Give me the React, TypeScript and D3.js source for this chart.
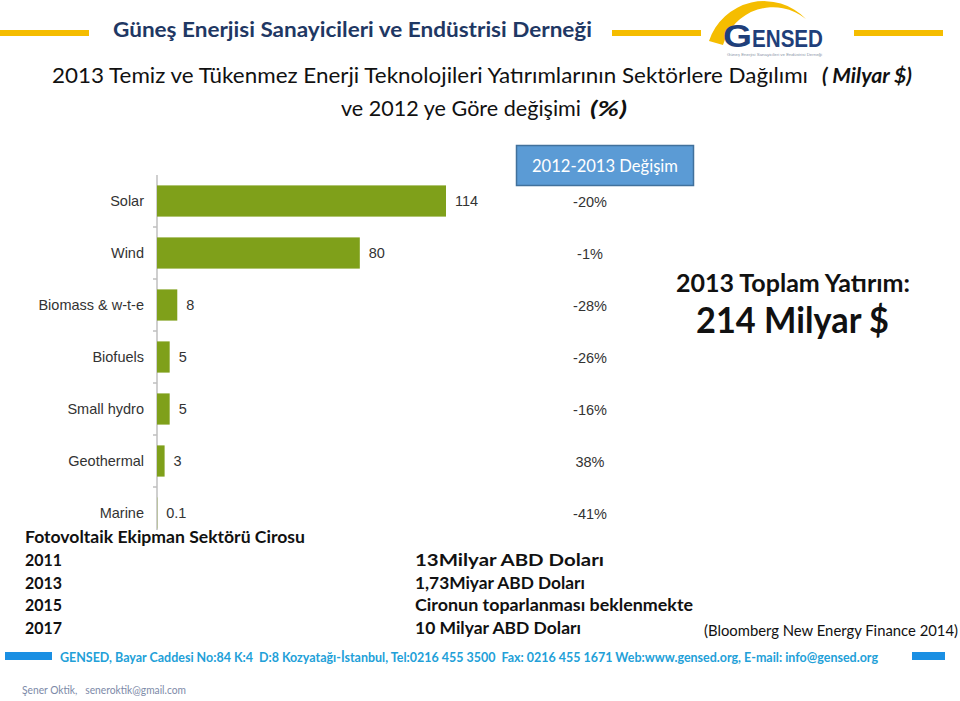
import React from "react";
import * as d3 from "d3";

const categories = ["Solar", "Wind", "Biomass & w-t-e", "Biofuels", "Small hydro", "Geothermal", "Marine"];
const investment = [114, 80, 8, 5, 5, 3, 0.1];
const valueLabels = ["114", "80", "8", "5", "5", "3", "0.1"];
const changeLabels = ["-20%", "-1%", "-28%", "-26%", "-16%", "38%", "-41%"];

const pvYears = ["2011", "2013", "2015", "2017"];
const pvValues = ["13Milyar ABD Doları", "1,73Miyar ABD Doları", "Cironun toparlanması beklenmekte", "10 Milyar ABD Doları"];
const pvValueWidths = [189, 170, 278, 166];

const CAL = "Lato, 'Open Sans', sans-serif";
const ARIAL = "'Liberation Sans', Arial, sans-serif";
const GREEN = "#7fa01a";
const NAVY = "#1f3864";
const GOLD = "#f5bd00";

export default function App() {
  const y = d3.scaleBand<string>().domain(categories).range([175, 539]).paddingInner(0.4).paddingOuter(0.2);
  const x = d3.scaleLinear().domain([0, 114]).range([157, 446]);
  const step = y.step();
  const boundaries = categories.slice(1).map((c) => (y(c) as number) - (y.paddingInner() * step) / 2);
  const pvRow = d3.scaleLinear().domain([0, 3]).range([566, 634]);

  return (
    <svg width={960} height={701} style={{ position: "absolute", left: 0, top: 0, background: "#fff" }}>
      <rect x={0} y={0} width={960} height={701} fill="#fff" />
      {/* header lines */}
      <rect x={0} y={30} width={89} height={6} fill={GOLD} />
      <rect x={612} y={30} width={89} height={6} fill={GOLD} />
      <rect x={854} y={30} width={89} height={6} fill={GOLD} />
      <text x={113} y={37} fontFamily={CAL} fontWeight={700} fontSize={20} fill={NAVY} textLength={479} lengthAdjust="spacingAndGlyphs">
        Güneş Enerjisi Sanayicileri ve Endüstrisi Derneği
      </text>
      {/* logo */}
      <path d="M709,41 A58,58 0 0 1 806,19 A52,52 0 0 0 723,45 Z" fill={GOLD} />
      <text x={723} y={47} fontFamily={ARIAL} fontWeight={700} fontSize={32} fill="#1f3f7a" textLength={29} lengthAdjust="spacingAndGlyphs">G</text>
      <text x={752} y={47} fontFamily={ARIAL} fontWeight={700} fontSize={24} fill="#1f3f7a" textLength={71} lengthAdjust="spacingAndGlyphs">ENSED</text>
      <text x={727} y={56} fontFamily={ARIAL} fontSize={4} fill="#8a96a8" textLength={95} lengthAdjust="spacingAndGlyphs">Güneş Enerjisi Sanayicileri ve Endüstrisi Derneği</text>

      {/* titles */}
      <text x={52} y={83} fontFamily={CAL} fontSize={22} fill="#111" textLength={756} lengthAdjust="spacingAndGlyphs">
        2013 Temiz ve Tükenmez Enerji Teknolojileri Yatırımlarının Sektörlere Dağılımı
      </text>
      <text x={822} y={83} fontFamily={CAL} fontSize={21} fontWeight={700} fontStyle="italic" fill="#111" textLength={90} lengthAdjust="spacingAndGlyphs">
        ( Milyar $)
      </text>
      <text x={341} y={116} fontFamily={CAL} fontSize={22} fill="#111" textLength={240} lengthAdjust="spacingAndGlyphs">
        ve 2012 ye Göre değişimi
      </text>
      <text x={590} y={116} fontFamily={CAL} fontSize={21} fontWeight={700} fontStyle="italic" fill="#111" textLength={37} lengthAdjust="spacingAndGlyphs">
        (%)
      </text>

      {/* change box */}
      <rect x={516.5} y={145.5} width={177} height={40} fill="#5b9bd5" stroke="#41719c" strokeWidth={1.5} />
      <text x={605} y={172} textAnchor="middle" fontFamily={CAL} fontSize={17} fill="#fff" textLength={146} lengthAdjust="spacingAndGlyphs">
        2012-2013 Değişim
      </text>

      {/* axis */}
      <line x1={x(0)} x2={x(0)} y1={175} y2={530} stroke="#bfbfbf" strokeWidth={1.5} />
      {boundaries.map((b, i) => (
        <line key={i} x1={x(0) - 4} x2={x(0)} y1={b} y2={b} stroke="#bfbfbf" strokeWidth={1.5} />
      ))}
      {/* bars */}
      {categories.map((c, i) => {
        const by = y(c) as number;
        const cy = by + y.bandwidth() / 2;
        return (
          <g key={c}>
            <rect x={x(0)} y={by} width={x(investment[i]) - x(0)} height={y.bandwidth()} fill={GREEN} />
            <text x={144} y={cy} dy="0.35em" textAnchor="end" fontFamily={ARIAL} fontSize={14.5} fill="#333">{c}</text>
            <text x={x(investment[i]) + 9} y={cy} dy="0.35em" fontFamily={ARIAL} fontSize={14.5} fill="#333">{valueLabels[i]}</text>
            <text x={590} y={cy + 1} dy="0.35em" textAnchor="middle" fontFamily={ARIAL} fontSize={14.5} fill="#333">{changeLabels[i]}</text>
          </g>
        );
      })}

      {/* total */}
      <text x={676} y={292} fontFamily={CAL} fontWeight={700} fontSize={25} fill="#111" textLength={234} lengthAdjust="spacingAndGlyphs">
        2013 Toplam Yatırım:
      </text>
      <text x={696} y={333} fontFamily={CAL} fontWeight={700} fontSize={36} fill="#111" textLength={193} lengthAdjust="spacingAndGlyphs">
        214 Milyar $
      </text>

      {/* PV block */}
      <text x={25} y={543} fontFamily={CAL} fontWeight={700} fontSize={17} fill="#111" textLength={280} lengthAdjust="spacingAndGlyphs">
        Fotovoltaik Ekipman Sektörü Cirosu
      </text>
      {pvYears.map((yr, i) => (
        <g key={yr}>
          <text x={25} y={pvRow(i)} fontFamily={CAL} fontWeight={700} fontSize={17} fill="#111" textLength={37} lengthAdjust="spacingAndGlyphs">{yr}</text>
          <text x={415} y={pvRow(i)} fontFamily={CAL} fontWeight={700} fontSize={17} fill="#111" textLength={pvValueWidths[i]} lengthAdjust="spacingAndGlyphs">{pvValues[i]}</text>
        </g>
      ))}
      <text x={704} y={636} fontFamily={CAL} fontSize={15} fill="#111" textLength={254} lengthAdjust="spacingAndGlyphs">
        (Bloomberg New Energy Finance 2014)
      </text>

      {/* footer */}
      <rect x={5} y={652} width={47} height={8} fill="#1a8fe3" />
      <rect x={912} y={652} width={33} height={8} fill="#1a8fe3" />
      <text x={60} y={662} fontFamily={CAL} fontWeight={700} fontSize={13.5} fill="#22a0d8" textLength={818} lengthAdjust="spacingAndGlyphs" style={{ whiteSpace: "pre" }}>
        {"GENSED, Bayar Caddesi No:84 K:4  D:8 Kozyatağı-İstanbul, Tel:0216 455 3500  Fax: 0216 455 1671 Web:www.gensed.org, E-mail: info@gensed.org"}
      </text>
      <text x={22} y={694} fontFamily={CAL} fontSize={11} fill="#7d8aa8" textLength={164} lengthAdjust="spacingAndGlyphs" style={{ whiteSpace: "pre" }}>
        {"Şener Oktik,   seneroktik@gmail.com"}
      </text>
    </svg>
  );
}
